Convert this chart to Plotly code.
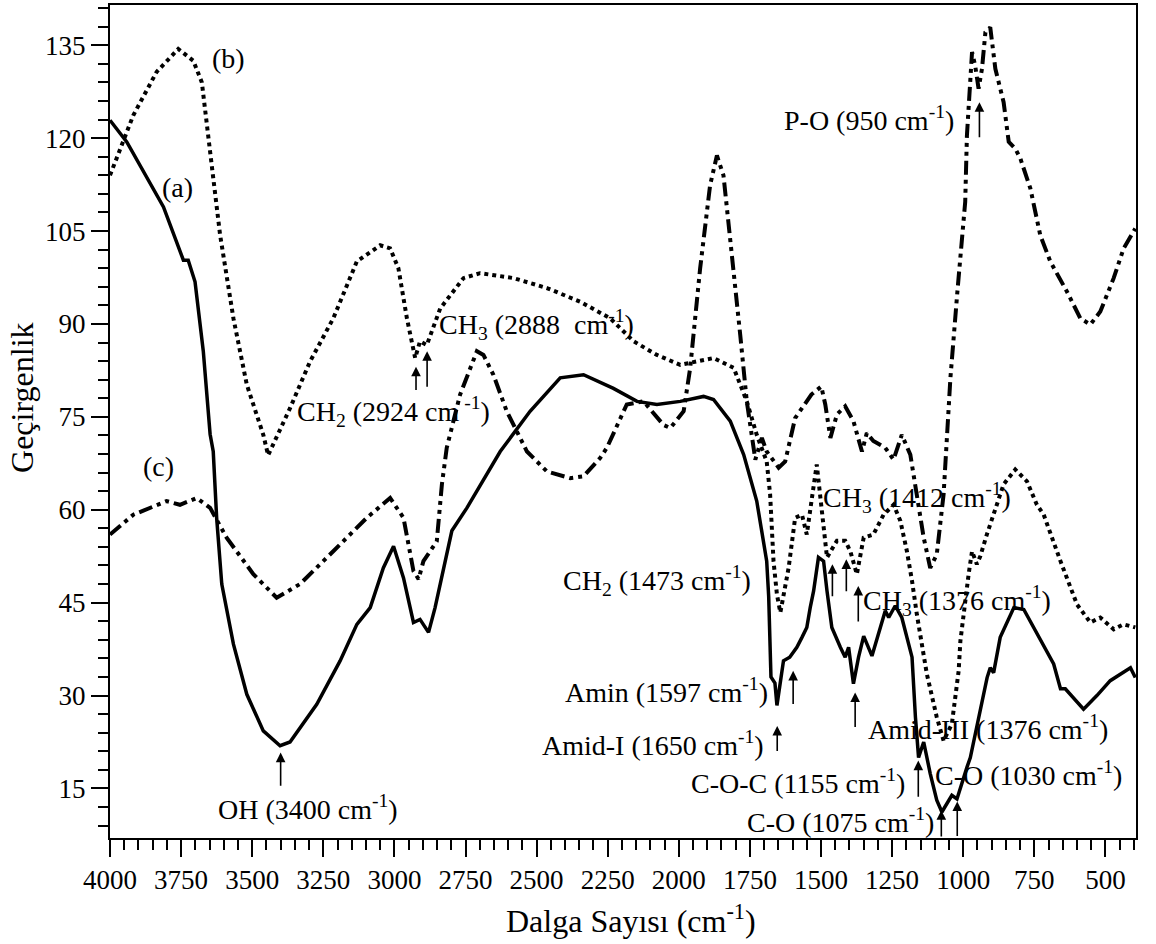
import plotly.graph_objects as go

# ---------------- data (wavenumber cm-1, transmittance) ----------------
a_wn = [4000, 3941, 3812, 3742, 3725, 3701, 3672, 3648, 3637, 3625, 3607, 3566, 3519, 3461,
        3402, 3367, 3273, 3191, 3132, 3085, 3039, 3003, 2968, 2933, 2910, 2880, 2857, 2798,
        2745, 2699, 2628, 2523, 2417, 2335, 2230, 2147, 2077, 1995, 1913, 1878, 1819, 1772,
        1726, 1691, 1684, 1676, 1662, 1655, 1643, 1632, 1610, 1585, 1567, 1550, 1538, 1526,
        1509, 1491, 1479, 1462, 1432, 1415, 1403, 1386, 1368, 1350, 1321, 1292, 1274, 1262,
        1239, 1216, 1198, 1180, 1168, 1157, 1139, 1116, 1093, 1075, 1040, 1022, 987, 975,
        916, 905, 893, 870, 822, 787, 682, 658, 641, 577, 530, 483, 412, 395]
a_val = [122.9, 119.4, 108.9, 100.3, 100.3, 96.8, 85.6, 72.2, 69.4, 58.7, 48.0, 38.3, 30.2, 24.3,
         21.9, 22.5, 28.6, 35.6, 41.5, 44.2, 50.6, 54.1, 49.0, 41.8, 42.3, 40.2, 44.2, 56.6,
         60.3, 63.8, 69.4, 75.9, 81.3, 81.8, 79.6, 77.5, 77.0, 77.5, 78.3, 77.8, 74.3, 68.9,
         61.4, 51.7, 46.0, 33.0, 32.0, 28.4, 32.4, 35.6, 36.2, 37.8, 39.4, 41.0, 44.2, 46.9,
         52.3, 51.7, 46.9, 41.0, 37.8, 36.2, 37.8, 31.9, 36.2, 39.6, 36.4, 41.0, 43.7, 42.6,
         44.5, 42.6, 39.4, 36.2, 26.5, 20.0, 22.5, 17.4, 13.1, 11.2, 13.9, 13.3, 18.4, 20.0,
         32.9, 34.5, 33.7, 39.4, 44.2, 43.9, 35.1, 31.1, 31.1, 27.8, 30.0, 32.4, 34.5, 32.9]

b_wn = [4000, 3918, 3836, 3760, 3707, 3677, 3648, 3613, 3566, 3519, 3461, 3444, 3367, 3297,
        3215, 3132, 3050, 3015, 2986, 2956, 2927, 2910, 2886, 2839, 2757, 2699, 2581, 2464,
        2347, 2241, 2159, 2077, 1995, 1948, 1878, 1807, 1761, 1726, 1691, 1679, 1667, 1655,
        1643, 1614, 1591, 1567, 1550, 1532, 1515, 1497, 1479, 1444, 1415, 1397, 1374, 1350,
        1316, 1280, 1245, 1221, 1198, 1180, 1163, 1128, 1093, 1069, 1040, 1016, 1010, 981,
        969, 952, 940, 917, 887, 858, 817, 776, 741, 717, 658, 600, 553, 518, 471, 436, 395]
b_val = [114.0, 123.7, 130.7, 134.4, 132.5, 129.0, 117.8, 104.4, 90.9, 80.2, 72.1, 68.8, 76.4, 83.9,
         90.9, 100.1, 102.7, 102.2, 99.0, 90.9, 84.5, 87.2, 86.6, 92.5, 97.4, 98.2, 97.4, 95.8,
         93.6, 90.9, 87.2, 85.0, 83.4, 83.9, 84.5, 82.9, 77.5, 72.1, 67.8, 62.5, 51.7, 46.3,
         43.4, 50.6, 58.7, 59.2, 56.0, 61.9, 67.3, 59.8, 52.3, 55.0, 55.0, 53.3, 49.6, 55.5,
         56.0, 59.2, 60.8, 58.2, 53.3, 48.5, 43.1, 33.5, 26.5, 22.7, 25.4, 34.0, 38.8, 49.6,
         53.3, 51.2, 52.5, 56.0, 60.3, 64.1, 66.5, 64.6, 60.8, 59.2, 51.7, 44.7, 41.8, 42.6,
         40.7, 41.5, 41.0]

c_wn = [4000, 3918, 3801, 3754, 3695, 3648, 3590, 3496, 3414, 3332, 3215, 3097, 3015, 2968,
        2933, 2915, 2898, 2851, 2833, 2822, 2816, 2769, 2710, 2687, 2652, 2605, 2534, 2464,
        2382, 2335, 2276, 2253, 2183, 2124, 2054, 2030, 1983, 1960, 1925, 1890, 1866, 1843,
        1807, 1784, 1761, 1743, 1731, 1708, 1691, 1649, 1626, 1591, 1534, 1499, 1485, 1467,
        1444, 1415, 1386, 1356, 1339, 1316, 1274, 1245, 1216, 1186, 1163, 1139, 1116, 1093,
        1069, 1057, 1045, 1020, 993, 987, 975, 969, 958, 946, 934, 922, 905, 887, 858, 840,
        817, 799, 764, 729, 694, 635, 588, 553, 518, 471, 436, 395]
c_val = [56.0, 59.2, 61.4, 60.8, 61.9, 60.3, 55.5, 49.6, 45.8, 48.0, 53.3, 58.7, 61.9, 58.7,
         50.1, 48.8, 51.7, 54.9, 64.1, 68.9, 70.0, 78.6, 85.6, 85.0, 81.8, 75.9, 69.4, 66.2,
         65.1, 65.4, 68.4, 70.0, 77.0, 77.5, 73.7, 73.2, 75.9, 82.9, 99.0, 112.4, 117.2, 114.0,
         99.0, 88.2, 77.5, 72.1, 68.1, 71.6, 69.4, 66.8, 67.8, 74.8, 78.6, 79.9, 77.0, 71.6,
         75.4, 76.7, 74.3, 69.4, 72.4, 71.1, 70.0, 68.1, 72.1, 68.9, 62.5, 55.5, 50.6, 52.8,
         62.5, 73.2, 81.3, 95.5, 109.7, 120.4, 128.5, 133.9, 131.7, 128.0, 131.2, 137.1, 137.9,
         131.2, 125.8, 119.4, 118.3, 116.7, 111.9, 104.3, 100.1, 95.2, 90.9, 89.9, 92.0, 97.4,
         102.2, 105.4]

x_ticks = [4000, 3750, 3500, 3250, 3000, 2750, 2500, 2250, 2000, 1750, 1500, 1250, 1000, 750, 500]
y_ticks = [15, 30, 45, 60, 75, 90, 105, 120, 135]

# labels: (text, x, y)
labels = [
    ("(a)", 3764, 112.1), ("(b)", 3585, 132.8), ("(c)", 3831, 67.0),
    ("OH (3400 cm<sup>-1</sup>)", 3305, 11.9),
    ("CH<sub>2</sub> (2924 cm<sup> -1</sup>)", 3003, 75.9),
    ("CH<sub>3</sub> (2888  cm<sup>-1</sup>)", 2502, 89.9),
    ("P-O (950 cm<sup>-1</sup>)", 1330, 123.1),
    ("CH<sub>3</sub> (1412 cm<sup>-1</sup>)", 1161, 61.9),
    ("CH<sub>2</sub> (1473 cm<sup>-1</sup>)", 2078, 48.5),
    ("CH<sub>3</sub> (1376 cm<sup>-1</sup>)", 1021, 45.3),
    ("Amin (1597 cm<sup>-1</sup>)", 2044, 30.8),
    ("Amid-I (1650 cm<sup>-1</sup>)", 2090, 22.2),
    ("Amid-III (1376 cm<sup>-1</sup>)", 914, 24.8),
    ("C-O-C (1155 cm<sup>-1</sup>)", 1580, 16.1),
    ("C-O (1075 cm<sup>-1</sup>)", 1432, 9.8),
    ("C-O (1030 cm<sup>-1</sup>)", 769, 17.4),
]
# arrows: (x, tail_y, head_y)
arrows = [
    (3400, 15.2, 20.8), (2924, 79.1, 83.1), (2885, 79.6, 85.6), (943, 119.9, 125.8),
    (1460, 45.8, 51.2), (1411, 46.6, 52.0), (1369, 41.7, 47.7), (1598, 28.4, 34.0),
    (1654, 20.8, 25.1), (1380, 24.7, 30.5), (1158, 13.4, 19.5), (1077, 7.0, 11.5),
    (1021, 7.1, 12.9),
]

FONT = "Liberation Serif, Times New Roman, serif"

fig = go.Figure()
fig.add_trace(go.Scatter(x=a_wn, y=a_val, mode="lines", name="(a)",
                         line=dict(color="black", width=3.5)))
fig.add_trace(go.Scatter(x=b_wn, y=b_val, mode="lines", name="(b)",
                         line=dict(color="black", width=4, dash="4px,4px")))
fig.add_trace(go.Scatter(x=c_wn, y=c_val, mode="lines", name="(c)",
                         line=dict(color="black", width=4, dash="14px,5px,4px,5px,4px,5px")))

for t, x, y in labels:
    fig.add_annotation(x=x, y=y, text=t, showarrow=False, xanchor="center", yanchor="middle",
                       font=dict(family=FONT, size=28, color="black"))
for x, ty, hy in arrows:
    fig.add_annotation(x=x, y=hy, ax=x, ay=ty, axref="x", ayref="y", xref="x", yref="y",
                       text="", showarrow=True, arrowhead=2, arrowsize=1.2, arrowwidth=1.6,
                       arrowcolor="black")

# axis titles placed as text
fig.add_annotation(xref="paper", yref="paper", x=-0.086, y=0.528, text="Geçirgenlik",
                   textangle=-90, showarrow=False, xanchor="center", yanchor="middle",
                   font=dict(family=FONT, size=32, color="black"))
fig.add_annotation(xref="paper", yref="paper", x=0.508, y=-0.097,
                   text="Dalga Sayısı (cm<sup>-1</sup>)",
                   showarrow=False, xanchor="center", yanchor="middle",
                   font=dict(family=FONT, size=32, color="black"))

axis_common = dict(showline=True, linecolor="black", linewidth=2, mirror=True,
                   ticks="outside", tickwidth=2, tickcolor="black", ticklen=17,
                   showgrid=False, zeroline=False,
                   tickfont=dict(family=FONT, size=27, color="black"))

fig.update_xaxes(range=[4000, 392.5], tickvals=x_ticks,
                 minor=dict(dtick=50, tick0=0, ticks="outside", ticklen=10, tickwidth=2,
                            tickcolor="black", showgrid=False),
                 **axis_common)
fig.update_yaxes(range=[7, 141.5], tickvals=y_ticks,
                 minor=dict(dtick=3, tick0=0, ticks="outside", ticklen=10, tickwidth=2,
                            tickcolor="black", showgrid=False),
                 **axis_common)

fig.update_layout(width=1156, height=944, margin=dict(l=110, r=20, t=3, b=106),
                  plot_bgcolor="white", paper_bgcolor="white", showlegend=False)

fig.write_html("out.html")
